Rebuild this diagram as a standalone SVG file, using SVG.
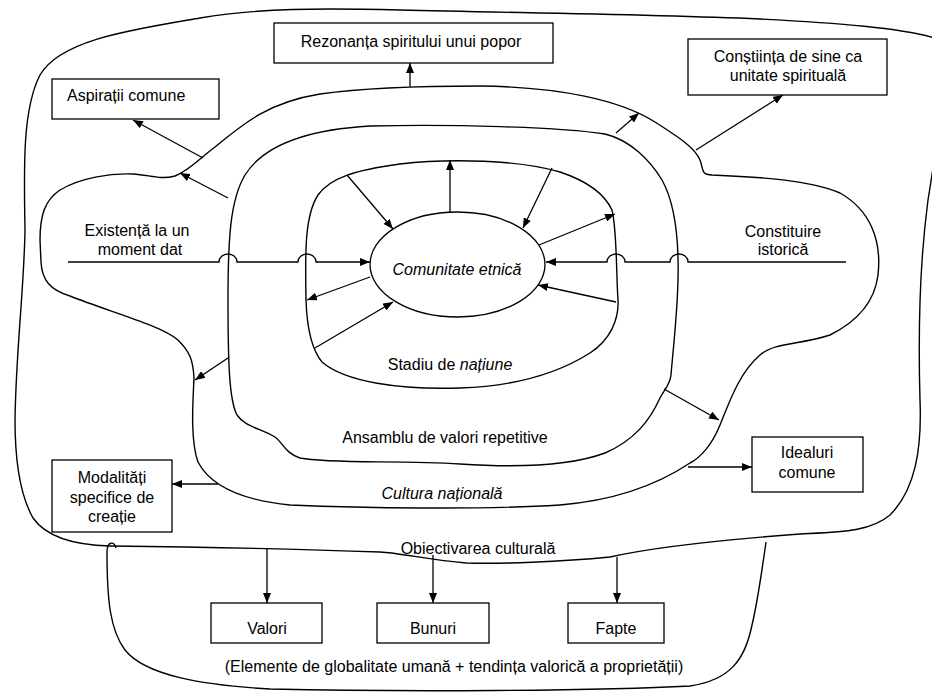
<svg xmlns="http://www.w3.org/2000/svg" width="932" height="692" viewBox="0 0 932 692">
<style>
.c{fill:none;stroke:#000;stroke-width:1.4}
.b{fill:#fff;stroke:#000;stroke-width:1.3}
.a{fill:none;stroke:#000;stroke-width:1.3;marker-end:url(#ah)}
text{font-family:"Liberation Sans",Arial,sans-serif;font-size:16px;fill:#000}
.m{text-anchor:middle}
.i{font-style:italic}
</style>
<defs>
<marker id="ah" markerUnits="userSpaceOnUse" markerWidth="10" markerHeight="8" viewBox="0 0 10 8" refX="10" refY="4" orient="auto">
<path d="M0,0 L10,4 L0,8 z" fill="#000"/>
</marker>
</defs>
<rect width="932" height="692" fill="#fff"/>
<g id="regions">
<path id="outer" class="c" d="M25,230 C24,170 22,110 40,75 C60,40 130,30 200,18 C260,8 320,8 400,10 C520,13 640,14 760,19 C840,23 900,28 935,38 C945,80 938,140 928,200 C920,260 918,330 920,400 C922,450 915,490 890,515 C870,532 840,532 800,534 C720,540 650,548 610,557 C560,562 500,564 466,563 C430,560 400,553 380,552 C300,549 200,547 110,546 C70,545 45,535 33,518 C20,495 15,460 15,420 C16,350 24,290 25,230 Z"/>
<path id="cultura" class="c" d="M40,240 C40,215 45,200 60,190 C80,178 110,173 133,174 C150,175 160,180 175,176 C190,170 200,158 215,147 C245,122 270,102 320,94 C370,87 430,86 480,86 C560,87 620,100 655,122 C680,138 695,148 700,160 C704,170 700,174 712,175 C760,177 810,180 840,193 C870,210 882,240 878,275 C875,300 860,320 830,335 C800,345 775,342 760,355 C740,372 730,400 720,425 C712,445 700,458 690,463 C660,483 620,500 560,505 C480,510 360,508 290,505 C240,500 210,485 198,462 C190,440 193,400 194,378 C193,360 190,352 178,340 C160,325 110,312 70,296 C50,290 42,280 41,262 Z"/>
<path id="ansamblu" class="c" d="M228,300 C228,240 230,200 245,175 C262,148 300,130 370,126 C450,124 560,127 605,134 C630,140 650,160 662,180 C676,205 679,240 678,280 C677,320 672,360 671,375 C670,385 664,390 660,398 C650,420 635,440 605,453 C570,466 520,468 460,464 C400,460 330,464 300,458 C285,453 283,443 275,437 C260,428 245,427 237,415 C229,400 228,360 228,300 Z"/>
<path id="stadiu" class="c" d="M306,300 C305,250 305,215 318,195 C330,178 355,170 400,164 C450,158 520,160 560,172 C590,182 605,195 612,210 C617,230 616,270 618,300 C619,320 610,340 590,353 C560,372 520,386 460,388 C400,390 345,382 322,362 C312,350 307,330 306,300 Z"/>
<path id="obiectivare" class="c" d="M116,548 C114,541 107,541 107,552 C107,600 110,630 125,650 C145,675 200,685 270,689 C400,692 600,691 690,686 C730,680 745,660 752,625 C758,600 762,570 766,542"/>
</g>
<g id="connectors">
<path class="a" d="M410,87 L410,63"/>
<path class="a" d="M203,158 L133,120"/>
<path class="a" d="M228,198 L180,173"/>
<path class="a" d="M616,133 L639,113"/>
<path class="a" d="M696,150 L783,95"/>
<path class="a" d="M450,213 L450,160"/>
<path class="a" d="M347,175 L393,229"/>
<path class="a" d="M552,168 L523,228"/>
<path class="a" d="M539,245 L615,214"/>
<path class="a" d="M68,262 H219 a9,8 0 0 1 18,0 H298 a9,8 0 0 1 18,0 H370"/>
<path class="a" d="M846,262 H688 a9,8 0 0 0 -18,0 H625 a9,8 0 0 0 -18,0 H546"/>
<path class="a" d="M370,277 L307,300"/>
<path class="a" d="M315,348 L393,302"/>
<path class="a" d="M616,302 L538,285"/>
<path class="a" d="M228,358 L195,380"/>
<path class="a" d="M664,389 L719,420"/>
<path class="a" d="M218,484 L172,484"/>
<path class="a" d="M688,467 L752,467"/>
<path class="a" d="M267,548 L267,603"/>
<path class="a" d="M433,555 L433,603"/>
<path class="a" d="M617,557 L617,603"/>
</g>
<g id="comunitate">
<ellipse class="b" cx="457.5" cy="264.5" rx="87.5" ry="52.5"/>
<text class="m i" x="457" y="275">Comunitate etnică</text>
</g>
<g id="rezonanta">
<rect class="b" x="274" y="23" width="279" height="40"/>
<text class="m" x="411" y="47">Rezonanța spiritului unui popor</text>
</g>
<g id="aspiratii">
<rect class="b" x="52" y="79" width="167" height="40"/>
<text x="67" y="101">Aspirații comune</text>
</g>
<g id="constiinta">
<rect class="b" x="688" y="39" width="199" height="56"/>
<text class="m" x="788" y="62">Conștiința de sine ca</text>
<text class="m" x="788" y="81">unitate spirituală</text>
</g>
<g id="modalitati">
<rect class="b" x="52" y="460" width="120" height="72"/>
<text class="m" x="112" y="483">Modalități</text>
<text class="m" x="112" y="503">specifice de</text>
<text class="m" x="112" y="522">creație</text>
</g>
<g id="idealuri">
<rect class="b" x="752" y="437" width="111" height="55"/>
<text class="m" x="807" y="458">Idealuri</text>
<text class="m" x="807" y="478">comune</text>
</g>
<g id="valori">
<rect class="b" x="211" y="603" width="111" height="40"/>
<text class="m" x="267" y="634">Valori</text>
</g>
<g id="bunuri">
<rect class="b" x="377" y="603" width="112" height="40"/>
<text class="m" x="433" y="634">Bunuri</text>
</g>
<g id="fapte">
<rect class="b" x="568" y="603" width="96" height="40"/>
<text class="m" x="616" y="634">Fapte</text>
</g>
<g id="labels">
<text class="m" x="137" y="236">Existență la un</text>
<text class="m" x="140" y="255">moment dat</text>
<text class="m" x="783" y="237">Constituire</text>
<text class="m" x="783" y="255">istorică</text>
<text class="m" x="450" y="370">Stadiu de <tspan class="i">națiune</tspan></text>
<text class="m" x="445" y="443">Ansamblu de valori repetitive</text>
<text class="m i" x="442" y="499">Cultura națională</text>
<text class="m" x="478" y="554">Obiectivarea culturală</text>
<text class="m" x="454" y="672">(Elemente de globalitate umană + tendința valorică a proprietății)</text>
</g>
</svg>
